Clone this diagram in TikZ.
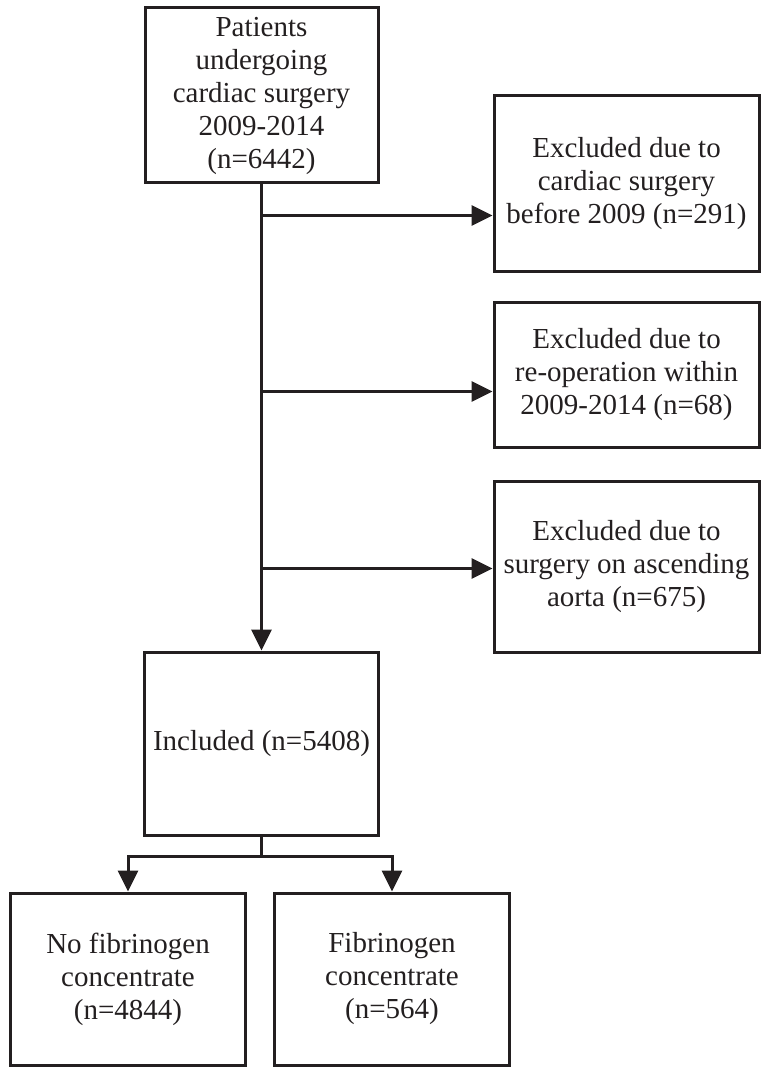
\documentclass[tikz,border=0pt]{standalone}
\usepackage{fontspec}
\setmainfont{Liberation Serif}
\usetikzlibrary{arrows.meta}
\definecolor{ink}{HTML}{231F20}
\tikzstyle{stage}=[draw=ink, text=ink, line width=3pt, align=center,
    inner sep=0pt, font=\fontsize{29}{33}\selectfont]
\tikzstyle{start}=[stage, minimum width=233pt, minimum height=175pt]
\tikzstyle{excl}=[stage, minimum width=265pt, minimum height=175pt]
\tikzstyle{excl2}=[excl, minimum height=145pt]
\tikzstyle{excl3}=[excl, minimum height=171pt]
\tikzstyle{incl}=[stage, minimum width=234pt, minimum height=183pt]
\tikzstyle{group}=[stage, minimum width=235pt, minimum height=172pt]
\tikzstyle{flow}=[draw=ink, line width=3pt]

\begin{document}
\begin{tikzpicture}[x=1pt, y=1pt, >={Triangle[length=21pt,width=20pt]}]
    \useasboundingbox (0,0) rectangle (761,-1067);

    \node (pat)[start] at (261.5,-95.5) {Patients\\ undergoing\\ cardiac surgery\\ 2009-2014\\ (n=6442)};
    \path (pat.center)+(365,-88) node (ex1)[excl] {Excluded due to\\ cardiac surgery\\ before 2009 (n=291)};
    \path (ex1.center)+(0,-191) node (ex2)[excl2] {Excluded due to\\ re-operation within\\ 2009-2014 (n=68)};
    \path (ex2.center)+(0,-192) node (ex3)[excl3] {Excluded due to\\ surgery on ascending\\ aorta (n=675)};
    \path (pat.center)+(0,-648) node (inc)[incl] {Included (n=5408)};
    \path (inc.center)+(-133.5,-235.5) node (nofib)[group] {No fibrinogen\\ concentrate\\ (n=4844)};
    \path (inc.center)+(130.5,-235.5) node (fib)[group] {Fibrinogen\\ concentrate\\ (n=564)};

    %%% arrows
    \path (pat.south)+(0,-31) coordinate (j1);
    \path (pat.south)+(0,-207) coordinate (j2);
    \path (pat.south)+(0,-384) coordinate (j3);
    \path (inc.south)+(0,-20) coordinate (br);

    \path [flow, ->] (pat.south) -- (inc.north);
    \path [flow, ->] (j1) -- (ex1.west |- j1);
    \path [flow, ->] (j2) -- (ex2.west |- j2);
    \path [flow, ->] (j3) -- (ex3.west |- j3);
    \path [flow, ->] (inc.south) -- (br) -| (nofib.north);
    \path [flow, ->] (br) -| (fib.north);
\end{tikzpicture}
\end{document}
